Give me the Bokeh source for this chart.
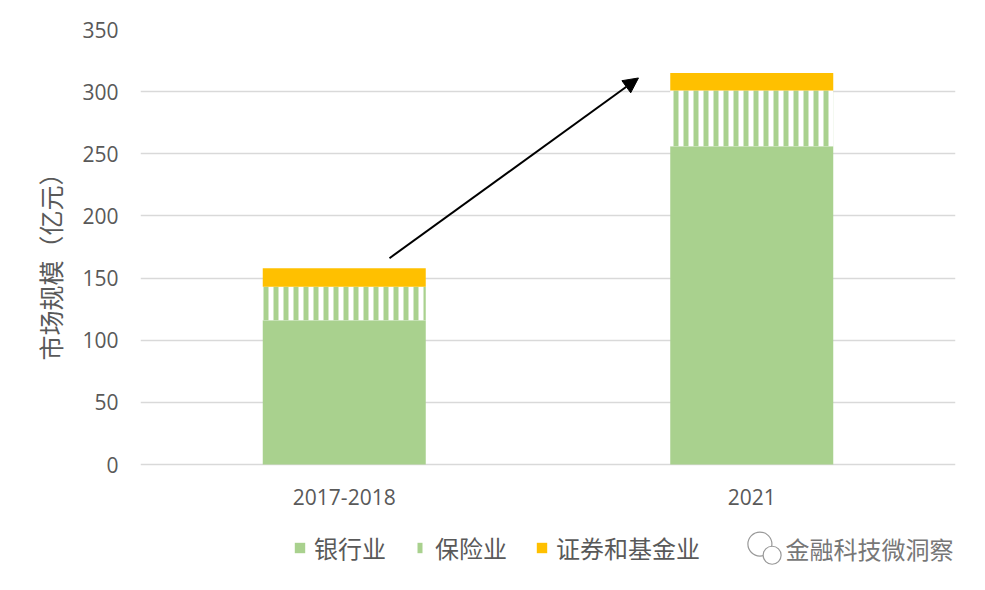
from bokeh.plotting import figure
from bokeh.models import Legend, LegendItem, Arrow, NormalHead, ColumnDataSource, Label, Title
from bokeh.core.properties import value
from bokeh.embed import file_html
from bokeh.resources import INLINE

periods = ["2017-2018", "2021"]
banking = [116, 256]
insurance = [27, 45]
securities = [15, 14]

series_names = ["银行业", "保险业", "证券和基金业"]
y_title = "市场规模（亿元）"
watermark = "金融科技微洞察"
green = "#A9D18E"
orange = "#FFC000"
text_color = "#595959"
grid_color = "#D9D9D9"

# arrow from bar 1 to bar 2 (categorical synthetic x, data y)
arrow_x = [0.611, 1.222]
arrow_y = [166, 311]

bottom_sec = [b + i for b, i in zip(banking, insurance)]
top_sec = [b + s for b, s in zip(bottom_sec, securities)]

src = ColumnDataSource(data=dict(
    x=periods, bank=banking, ins_bot=banking, ins_top=bottom_sec,
    sec_bot=bottom_sec, sec_top=top_sec,
))

# the frame reaches down to the legend row so that nothing gets clipped;
# 435 px for 0..350, frame bottom 121 px under the zero line
px_per_unit = 435 / 350
y_low = -121 / px_per_unit

p = figure(x_range=periods, y_range=(y_low, 350), width=985, height=590,
           output_backend="svg", toolbar_location=None, tools="",
           min_border_left=140, min_border_right=30, min_border_top=29,
           min_border_bottom=5)
p.outline_line_color = None

r1 = p.vbar(x="x", top="bank", bottom=0, width=0.4, source=src,
            fill_color=green, line_color=None)
r2 = p.vbar(x="x", top="ins_top", bottom="ins_bot", width=0.4, source=src,
            fill_color="white", line_color=None, hatch_pattern="vertical_line",
            hatch_color=green, hatch_weight=5, hatch_scale=10)
r3 = p.vbar(x="x", top="sec_top", bottom="sec_bot", width=0.4, source=src,
            fill_color=orange, line_color=None)

# category labels (x axis hidden, the frame goes lower than zero)
p.text(x=periods, y=[-32 / px_per_unit] * len(periods), text=periods,
       text_font=value("Open Sans"), text_font_size="21px",
       text_color=text_color, text_align="center", text_baseline="middle")

p.add_layout(Arrow(end=NormalHead(size=15, fill_color="black", line_color="black"),
                   x_start=arrow_x[0], y_start=arrow_y[0],
                   x_end=arrow_x[1], y_end=arrow_y[1],
                   line_color="black", line_width=2))

p.xaxis.visible = False
p.yaxis.ticker = list(range(0, 351, 50))
p.yaxis.axis_line_color = None
p.yaxis.major_tick_line_color = None
p.yaxis.major_tick_out = 0
p.yaxis.minor_tick_line_color = None
p.yaxis.major_label_standoff = 22
p.yaxis.major_label_text_font = "Open Sans"
p.yaxis.major_label_text_font_size = "21px"
p.yaxis.major_label_text_color = text_color

p.add_layout(Title(text=y_title, align="left", offset=225, standoff=24,
                   text_font="Noto Sans CJK SC", text_font_size="25px",
                   text_font_style="normal", text_color=text_color), "left")

p.xgrid.grid_line_color = None
p.ygrid.grid_line_color = grid_color
p.ygrid.grid_line_width = 1.3

legend = Legend(items=[
    LegendItem(label=series_names[0], renderers=[r1]),
    LegendItem(label=series_names[1], renderers=[r2]),
    LegendItem(label=series_names[2], renderers=[r3]),
], orientation="horizontal", location=(153, 20))
legend.border_line_color = None
legend.background_fill_alpha = 0
legend.padding = 0
legend.margin = 0
legend.glyph_width = 13
legend.glyph_height = 13
legend.label_standoff = 8
legend.spacing = 28
legend.label_text_font = "Noto Sans CJK SC"
legend.label_text_font_size = "24px"
legend.label_text_color = text_color
p.add_layout(legend, "center")

# watermark with a small two-bubble icon
p.scatter(x=[1.52, 1.55], y=[-64, -73], marker="circle", size=[24, 18],
          fill_color="white", line_color="#999999", line_width=1.2)
p.add_layout(Label(x=645, y=37, x_units="screen", y_units="screen",
                   text=watermark, text_font="Noto Sans CJK SC",
                   text_font_size="24px", text_color="#777777",
                   text_baseline="middle"))

open("out.html", "w").write(file_html(p, INLINE))
